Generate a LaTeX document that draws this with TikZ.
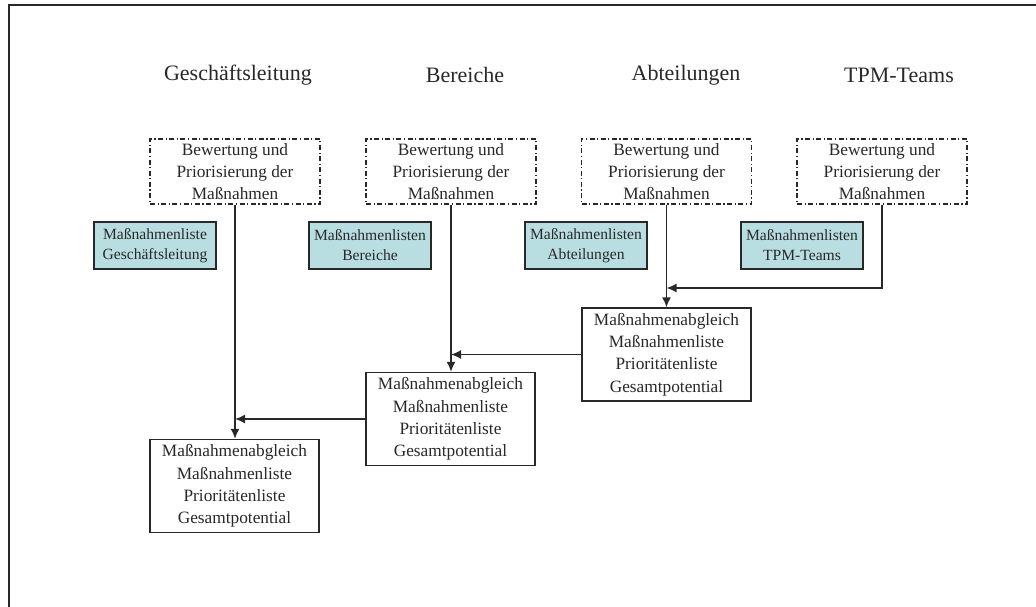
\documentclass[tikz,border=0pt]{standalone}
\usepackage{fontspec}
\setmainfont{Liberation Serif}
\usetikzlibrary{arrows.meta}
\definecolor{ink}{RGB}{40,40,40}
\definecolor{listfill}{RGB}{185,222,225}
\tikzset{
  head/.style={text=ink, font=\fontsize{22}{26}\selectfont},
  evalbox/.style={draw=ink, line width=1.2pt, dash pattern=on 5pt off 2.5pt on 1.2pt off 2.5pt,
    minimum width=170pt, minimum height=65pt, inner sep=0pt, align=center, text=ink,
    font=\fontsize{17.3}{22.3}\selectfont},
  listbox/.style={draw=ink, line width=1.4pt, fill=listfill,
    minimum width=122pt, minimum height=47pt, inner sep=0pt, align=center, text=ink,
    font=\fontsize{15.6}{20}\selectfont},
  resbox/.style={draw=ink, line width=1.4pt,
    minimum width=169pt, minimum height=93pt, inner sep=0pt, align=center, text=ink,
    font=\fontsize{17.3}{22.3}\selectfont},
  flow/.style={draw=ink, line width=1.6pt},
  flowarrow/.style={flow, -{Latex[length=10pt,width=9pt]}}
}
\begin{document}
\begin{tikzpicture}[x=1pt,y=-1pt]
\useasboundingbox (0,0) rectangle (1036,607);
% outer frame (only top and left edges fall inside the page)
\draw[ink, line width=2pt] (9,610) -- (9,5) -- (1040,5);

% level headings
\node[head] (hGL) at (238,75) {Geschäftsleitung};
\node[head] (hB)  at (465,75) {Bereiche};
\node[head] (hA)  at (686,75) {Abteilungen};
\node[head] (hT)  at (899,75) {TPM-Teams};

% evaluation steps
\node[evalbox] (e1) at (235,171.5)   {Bewertung und\\Priorisierung der\\Maßnahmen};
\node[evalbox] (e2) at (451,171.5)   {Bewertung und\\Priorisierung der\\Maßnahmen};
\node[evalbox] (e3) at (666.5,171.5) {Bewertung und\\Priorisierung der\\Maßnahmen};
\node[evalbox] (e4) at (882,171.5)   {Bewertung und\\Priorisierung der\\Maßnahmen};

% measure lists
\node[listbox] (l1) at (155,245.5) {Maßnahmenliste\\Geschäftsleitung};
\node[listbox] (l2) at (370,245.5) {Maßnahmenlisten\\Bereiche};
\node[listbox] (l3) at (586,245.5) {Maßnahmenlisten\\Abteilungen};
\node[listbox] (l4) at (802,245.5) {Maßnahmenlisten\\TPM-Teams};

% consolidation results
\node[resbox] (r3) at (666.5,354.5) {Maßnahmenabgleich\\Maßnahmenliste\\Prioritätenliste\\Gesamtpotential};
\node[resbox] (r2) at (450.5,419)   {Maßnahmenabgleich\\Maßnahmenliste\\Prioritätenliste\\Gesamtpotential};
\node[resbox] (r1) at (234.5,486)   {Maßnahmenabgleich\\Maßnahmenliste\\Prioritätenliste\\Gesamtpotential};

% junction points on the vertical flows
\coordinate (j3) at (e3.south |- 0,288);
\coordinate (j2) at (e2.south |- r3.west);
\coordinate (j1) at (e1.south |- r2.west);

% flows
\draw[flowarrow] (e1.south) -- (e1.south |- r1.north);
\draw[flowarrow] (e2.south) -- (e2.south |- r2.north);
\draw[flowarrow] (e3.south) -- (e3.south |- r3.north);
\draw[flowarrow] (e4.south) |- (j3);
\draw[flowarrow] (r3.west) -- (j2);
\draw[flowarrow] (r2.west) -- (j1);
\end{tikzpicture}
\end{document}
